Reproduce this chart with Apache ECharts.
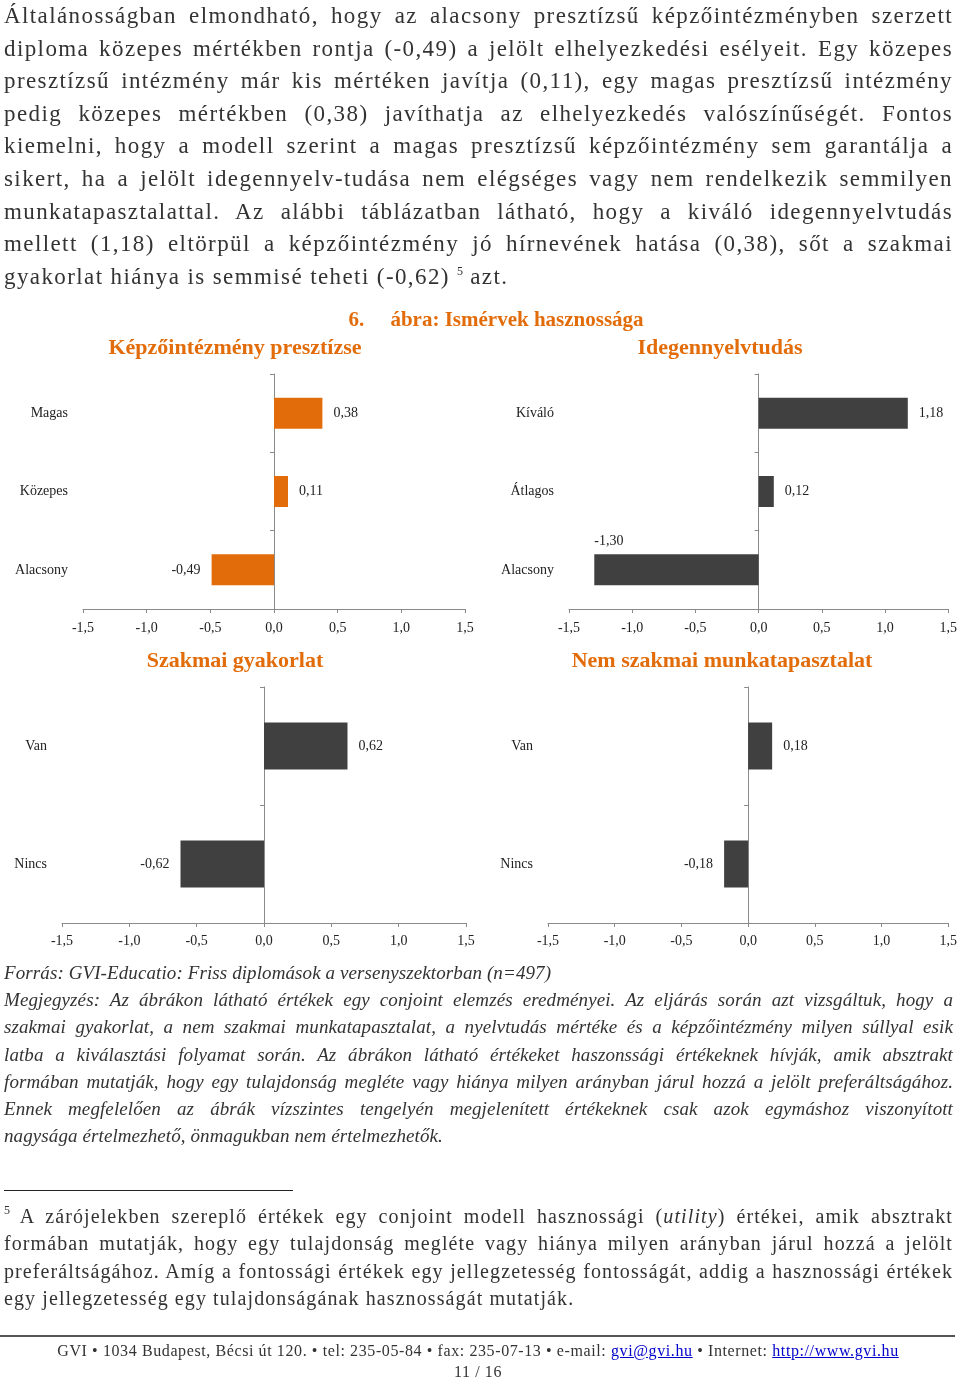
<!DOCTYPE html>
<html>
<head>
<meta charset="utf-8">
<script src="https://cdn.jsdelivr.net/npm/echarts@6/dist/echarts.min.js"></script>
<style>
  html, body { margin:0; padding:0; background:#fff; }
  body { width:960px; height:1382px; position:relative; overflow:hidden; font-family:'Liberation Serif','DejaVu Serif',serif; color:#333; }
  #chart { position:absolute; left:0; top:0; width:960px; height:1382px; }
  .block { position:absolute; left:4px; width:949px; }
  .block div { text-align:justify; text-align-last:justify; white-space:normal; }
  .block div.last { text-align-last:left; }
  #body { top:0px; font-size:23px; line-height:32.6px; letter-spacing:1.4px; }
  #notes { top:959px; font-size:19px; line-height:27.2px; font-style:italic; letter-spacing:0.1px; }
  #foot { top:1203px; font-size:20px; line-height:27.3px; letter-spacing:1.1px; }
  sup { font-size:12px; line-height:0; vertical-align:9px; letter-spacing:0; }
  #sep { position:absolute; left:4px; top:1190px; width:289px; height:0; border-top:1.5px solid #222; }
  #footline { position:absolute; left:0; top:1335px; width:955px; height:0; border-top:2px solid #555; }
  #footer { position:absolute; left:0; top:1340px; width:956px; text-align:center; font-size:16px; line-height:21px; color:#333; letter-spacing:0.6px; }
  #footer a { color:#0000cc; text-decoration:underline; }
</style>
</head>
<body>
<div id="chart"></div>

<div id="body" class="block">
  <div>Általánosságban elmondható, hogy az alacsony presztízsű képzőintézményben szerzett</div>
  <div>diploma közepes mértékben rontja (-0,49) a jelölt elhelyezkedési esélyeit. Egy közepes</div>
  <div>presztízsű intézmény már kis mértéken javítja (0,11), egy magas presztízsű intézmény</div>
  <div>pedig közepes mértékben (0,38) javíthatja az elhelyezkedés valószínűségét. Fontos</div>
  <div>kiemelni, hogy a modell szerint a magas presztízsű képzőintézmény sem garantálja a</div>
  <div>sikert, ha a jelölt idegennyelv-tudása nem elégséges vagy nem rendelkezik semmilyen</div>
  <div>munkatapasztalattal. Az alábbi táblázatban látható, hogy a kiváló idegennyelvtudás</div>
  <div>mellett (1,18) eltörpül a képzőintézmény jó hírnevének hatása (0,38), sőt a szakmai</div>
  <div class="last">gyakorlat hiánya is semmisé teheti (-0,62) <sup>5</sup> azt.</div>
</div>

<div id="notes" class="block">
  <div class="last">Forrás: GVI-Educatio: Friss diplomások a versenyszektorban (n=497)</div>
  <div>Megjegyzés: Az ábrákon látható értékek egy conjoint elemzés eredményei. Az eljárás során azt vizsgáltuk, hogy a</div>
  <div>szakmai gyakorlat, a nem szakmai munkatapasztalat, a nyelvtudás mértéke és a képzőintézmény milyen súllyal esik</div>
  <div>latba a kiválasztási folyamat során. Az ábrákon látható értékeket haszonssági értékeknek hívják, amik absztrakt</div>
  <div>formában mutatják, hogy egy tulajdonság megléte vagy hiánya milyen arányban járul hozzá a jelölt preferáltságához.</div>
  <div>Ennek megfelelően az ábrák vízszintes tengelyén megjelenített értékeknek csak azok egymáshoz viszonyított</div>
  <div class="last">nagysága értelmezhető, önmagukban nem értelmezhetők.</div>
</div>

<div id="sep"></div>

<div id="foot" class="block">
  <div><sup>5</sup> A zárójelekben szereplő értékek egy conjoint modell hasznossági (<i>utility</i>) értékei, amik absztrakt</div>
  <div>formában mutatják, hogy egy tulajdonság megléte vagy hiánya milyen arányban járul hozzá a jelölt</div>
  <div>preferáltságához. Amíg a fontossági értékek egy jellegzetesség fontosságát, addig a hasznossági értékek</div>
  <div class="last">egy jellegzetesség egy tulajdonságának hasznosságát mutatják.</div>
</div>

<div id="footline"></div>
<div id="footer">
  GVI • 1034 Budapest, Bécsi út 120. • tel: 235-05-84 • fax: 235-07-13 • e-mail: <a>gvi@gvi.hu</a> • Internet: <a>http://www.gvi.hu</a><br>
  11 / 16
</div>

<script>
// ---- data ----
const figureTitle = '6.     ábra: Ismérvek hasznossága';
const panelTitles = ['Képzőintézmény presztízse', 'Idegennyelvtudás', 'Szakmai gyakorlat', 'Nem szakmai munkatapasztalat'];
const prestigeCats = ['Magas', 'Közepes', 'Alacsony'];
const prestigeVals = [0.38, 0.11, -0.49];
const languageCats = ['Kíváló', 'Átlagos', 'Alacsony'];
const languageVals = [1.18, 0.12, -1.30];
const practiceCats = ['Van', 'Nincs'];
const practiceVals = [0.62, -0.62];
const workCats = ['Van', 'Nincs'];
const workVals = [0.18, -0.18];
const xMin = -1.5, xMax = 1.5, xStep = 0.5;

// ---- styles ----
const FONT = "'Liberation Serif', 'DejaVu Serif', serif";
const ORANGE = '#E36C0A';
const DARK = '#404040';
const AXIS = '#8a8a8a';
const TXT = '#222222';

const panels = [
  { title: panelTitles[0], tx: 235, ty: 337, cats: prestigeCats, vals: prestigeVals, color: ORANGE,
    grid: { left: 83, top: 374, width: 382, height: 235 }, barWidth: 31, labelMargin: 12, aboveIdx: -1 },
  { title: panelTitles[1], tx: 720, ty: 337, cats: languageCats, vals: languageVals, color: DARK,
    grid: { left: 569, top: 374, width: 382, height: 235 }, barWidth: 31, labelMargin: 12, aboveIdx: 2 },
  { title: panelTitles[2], tx: 235, ty: 650, cats: practiceCats, vals: practiceVals, color: DARK,
    grid: { left: 62, top: 687, width: 404, height: 236 }, barWidth: 47, labelMargin: 11, aboveIdx: -1 },
  { title: panelTitles[3], tx: 722, ty: 650, cats: workCats, vals: workVals, color: DARK,
    grid: { left: 548, top: 687, width: 403, height: 236 }, barWidth: 47, labelMargin: 11, aboveIdx: -1 }
];

const fmt = v => v.toFixed(2).replace('.', ',');
const fmtTick = v => v.toFixed(1).replace('.', ',');

const option = {
  animation: false,
  backgroundColor: 'transparent',
  title: [{
    text: figureTitle, left: 496, top: 310, textAlign: 'center', padding: 0,
    textStyle: { fontFamily: FONT, fontSize: 21, fontWeight: 'bold', color: ORANGE }
  }].concat(panels.map(p => ({
    text: p.title, left: p.tx, top: p.ty, textAlign: 'center', padding: 0,
    textStyle: { fontFamily: FONT, fontSize: 22, fontWeight: 'bold', color: ORANGE }
  }))),
  grid: panels.map(p => Object.assign({ containLabel: false }, p.grid)),
  xAxis: panels.map((p, i) => ({
    gridIndex: i, type: 'value', min: xMin, max: xMax, interval: xStep,
    axisLine: { show: true, onZero: false, lineStyle: { color: AXIS, width: 1 } },
    axisTick: { show: true, length: 4, lineStyle: { color: AXIS } },
    splitLine: { show: false },
    axisLabel: { formatter: fmtTick, fontFamily: FONT, fontSize: 14, color: TXT, margin: p.labelMargin }
  })),
  yAxis: [].concat(...panels.map((p, i) => ([
    { gridIndex: i, type: 'category', position: 'left', data: p.cats, inverse: true,
      axisLine: { show: false, onZero: false }, axisTick: { show: false },
      axisLabel: { margin: 15, fontFamily: FONT, fontSize: 14, color: TXT } },
    { gridIndex: i, type: 'category', position: 'left', data: p.cats, inverse: true,
      axisLine: { show: true, onZero: true, lineStyle: { color: AXIS, width: 1 } },
      axisTick: { show: true, length: 4, lineStyle: { color: AXIS } },
      axisLabel: { show: false } }
  ]))),
  series: panels.map((p, i) => ({
    type: 'bar', xAxisIndex: i, yAxisIndex: 2 * i + 1, barWidth: p.barWidth,
    itemStyle: { color: p.color },
    label: { show: true, formatter: q => fmt(q.value), fontFamily: FONT, fontSize: 14, color: TXT, distance: 11 },
    data: p.vals.map((v, k) => ({
      value: v,
      label: k === p.aboveIdx ? { position: [0, -20] } : { position: v >= 0 ? 'right' : 'left' }
    }))
  }))
};

const chart = echarts.init(document.getElementById('chart'), null, { renderer: 'canvas' });
chart.setOption(option);
</script>
</body>
</html>
